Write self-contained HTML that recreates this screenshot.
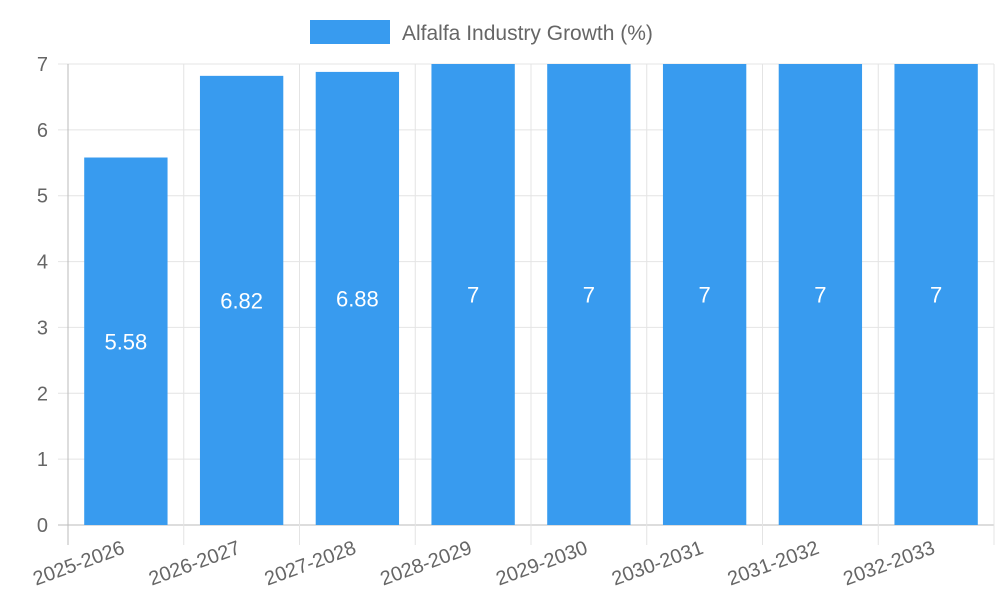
<!DOCTYPE html>
<html><head><meta charset="utf-8"><style>
body{margin:0;background:#fff;}
svg{display:block;font-family:"Liberation Sans",sans-serif;}
</style></head><body>
<svg id="chart" width="1000" height="600">
<g>
<rect x="310" y="20" width="80" height="24" fill="#389bef"/>
<text x="402" y="40" font-size="21" fill="#666">Alfalfa Industry Growth (%)</text>
</g>
<g id="grid"></g><g id="bars"></g><g id="labels"></g>
</svg>
<script>
const categories=["2025-2026","2026-2027","2027-2028","2028-2029","2029-2030","2030-2031","2031-2032","2032-2033"];
const values=[5.58,6.82,6.88,7,7,7,7,7];
const yTicks=[0,1,2,3,4,5,6,7];
const NS="http://www.w3.org/2000/svg";
const L=68,R=994,T=64,B=525,yMax=7;
const band=(R-L)/categories.length;
const x=i=>L+band*i;
const y=v=>B-(v/yMax)*(B-T);
function mk(tag,attrs,parent,txt){const e=document.createElementNS(NS,tag);for(const k in attrs)e.setAttribute(k,attrs[k]);if(txt!==undefined)e.textContent=txt;document.getElementById(parent).appendChild(e);return e;}
yTicks.forEach(t=>{
 const g=mk('line',{x1:L-10,x2:R,y1:y(t),y2:y(t),stroke:t===0?'#bbb':'#e4e4e4','stroke-width':1},'grid');
 
 
 const tl=mk('text',{x:L-20,y:y(t)+7,'font-size':20,fill:'#666','text-anchor':'end'},'grid',String(t));
 
 
});
for(let i=0;i<=categories.length;i++){
 const v=mk('line',{x1:x(i),x2:x(i),y1:T,y2:B+20,stroke:i===0?'#bbb':'#e4e4e4','stroke-width':1},'grid');
 
 
}
categories.forEach((c,i)=>{
 const bw=band*0.72, cx=x(i)+band/2;
 const r=mk('rect',{x:cx-bw/2,y:y(values[i]),width:bw,height:B-y(values[i]),fill:'#389bef'},'bars');
 
 
 const vl=mk('text',{x:cx,y:(y(values[i])+B)/2+8,'font-size':22,fill:'#fff','text-anchor':'middle'},'labels',String(values[i]));
 
 
 const xl=mk('text',{x:cx,y:B+28,'font-size':20,fill:'#666','text-anchor':'end',transform:`rotate(-20 ${cx} ${B+28})`},'labels',c);
 
 
});
</script>
</body></html>
